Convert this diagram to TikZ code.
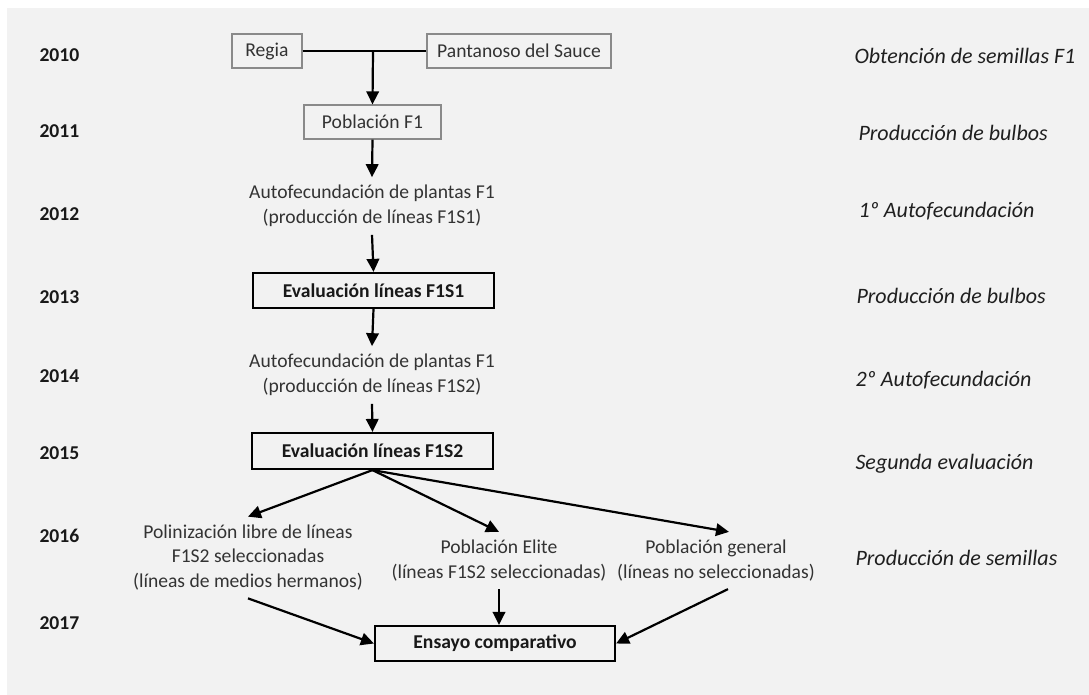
\documentclass[tikz,border=0pt]{standalone}
\usepackage{fontspec}
\setmainfont{Carlito}
\usetikzlibrary{arrows.meta}
\definecolor{bg}{HTML}{F2F2F2}
\definecolor{txt}{HTML}{333333}
\definecolor{thin}{HTML}{8A8A8A}
\tikzset{
  base/.style={font=\fontsize{19.6}{24.5}\selectfont, text=txt},
  thinbox/.style={base, draw=thin, line width=1.2pt, minimum height=34pt, inner sep=0pt},
  boldbox/.style={base, draw=black, line width=2.2pt, minimum height=35pt, minimum width=241pt, inner sep=0pt, font=\fontsize{19.6}{24.5}\selectfont\bfseries, text=black!90},
  plain/.style={base, align=center, inner xsep=2pt, inner ysep=8pt},
  year/.style={base, anchor=west, font=\fontsize{19.6}{24.5}\selectfont\bfseries, text=black!90},
  phase/.style={base, anchor=west, font=\fontsize{22}{26}\selectfont\itshape, text=black!88},
  arr/.style={line width=2.2pt, draw=black, -{Triangle[length=13pt,width=12.5pt]}},
  link/.style={line width=2.2pt, draw=black}
}
\begin{document}
\begin{tikzpicture}[x=1pt,y=-1pt]
\useasboundingbox (0,0) rectangle (1089,695);
\fill[white] (0,0) rectangle (1089,695);
\fill[bg] (7,8) rectangle (1089,695);

% years
\node[year] (y10) at (36,55) {2010};
\node[year] (y11) at (36,131) {2011};
\node[year] (y12) at (36,214) {2012};
\node[year] (y13) at (36,297) {2013};
\node[year] (y14) at (36,376) {2014};
\node[year] (y15) at (36,453) {2015};
\node[year] (y16) at (36,536) {2016};
\node[year] (y17) at (36,623) {2017};

% phases
\node[phase] (p10) at (851,56) {Obtención de semillas F1};
\node[phase] (p11) at (855,133) {Producción de bulbos};
\node[phase] (p12) at (855,211) {1º Autofecundación};
\node[phase] (p13) at (853,296) {Producción de bulbos};
\node[phase] (p14) at (852,380) {2º Autofecundación};
\node[phase] (p15) at (852,464) {Segunda evaluación};
\node[phase] (p16) at (852,558) {Producción de semillas};

% flow
\node[thinbox, minimum width=70pt] (regia) at (267,51) {Regia};
\node[thinbox, minimum width=184pt] (pant) at (519,51) {Pantanoso del Sauce};
\coordinate (j) at (373,51);
\node[thinbox, minimum width=137pt] (pob) at (372.5,122) {Población F1};
\node[plain] (auto1) at (372,206) {Autofecundación de plantas F1\\(producción de líneas F1S1)};
\node[boldbox] (ev1) at (373.5,290.5) {Evaluación líneas F1S1};
\node[plain] (auto2) at (372,375) {Autofecundación de plantas F1\\(producción de líneas F1S2)};
\node[boldbox, minimum height=36pt] (ev2) at (372.5,451) {Evaluación líneas F1S2};
\node[plain] (polin) at (248,557.5) {Polinización libre de líneas\\F1S2 seleccionadas\\(líneas de medios hermanos)};
\node[plain] (elite) at (499,560.5) {Población Elite\\(líneas F1S2 seleccionadas)};
\node[plain] (gen) at (716,560.5) {Población general\\(líneas no seleccionadas)};
\node[boldbox, minimum width=240pt] (ens) at (495,643.5) {Ensayo comparativo};

\draw[link] (regia.east) -- (pant.west);
\draw[arr] (j) -- (pob.north);
\draw[arr] (pob.south) -- (auto1.north);
\draw[arr] (auto1.south) -- (ev1.north);
\draw[arr] (ev1.south) -- (auto2.north);
\draw[arr] (auto2.south) -- (ev2.north);
\draw[arr] (ev2.south) -- (polin.north);
\draw[arr] (ev2.south) -- (elite.north);
\draw[arr] (ev2.south) -- ([xshift=13pt]gen.north);
\draw[arr] (polin.south) -- (ens.west);
\draw[arr] (elite.south) -- (elite.south |- ens.north);
\draw[arr] ([xshift=12pt]gen.south) -- (ens.east);
\end{tikzpicture}
\end{document}
